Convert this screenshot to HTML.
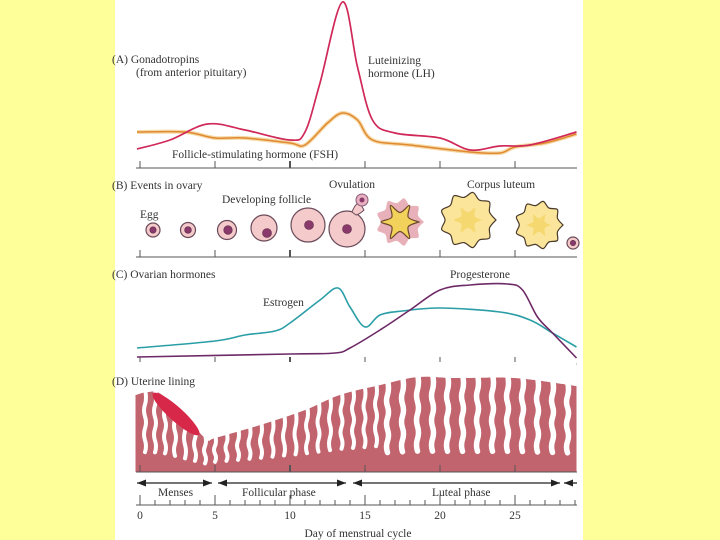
<!DOCTYPE html>
<html><head><meta charset="utf-8"><style>
html,body{margin:0;padding:0;background:#FFFF99;}
#wrap{position:relative;width:720px;height:540px;background:#FFFF99;overflow:hidden;}
svg text{font-family:"Liberation Serif",serif;fill:#333;font-size:11.5px;}
</style></head><body>
<div id="wrap">
<svg id="chart" width="720" height="540" viewBox="0 0 720 540">
<rect x="115" y="0" width="468" height="540" fill="#fff"/>
</svg>
</div>
<script>
const lhDays=[-0.2,2,4.5,7,10,11,12,13.5,14.5,15.5,17,20,22,24,26,29.1];
const lhVals=[19,28,44,38,28,36,85,166,101,48,35,30,18,22,23,36];
const fshDays=[-0.2,3,5,7,10,11,12.5,13.5,14.5,15.5,18,22,24,25,27,29.1];
const fshVals=[36,36,30,30,25,23,45,55,48,28,23,16,15,21,25,34];
const estDays=[-0.2,5,7,9,10,12,13.2,14,15,16,17.5,20,24,26,27.5,29.1];
const estVals=[16,23,29,33,41,64,76,57,37,49,53,56,52,44,31,17];
const proDays=[-0.2,10,13,14,16,18,20,22,24.5,25.5,26.5,27.5,29.1];
const proVals=[7,10,11,16,34,54,74,79,80,74,47,31,6];
const tickDays=[0,5,10,15,20,25];
const tickLabels=["0","5","10","15","20","25"];
const liningDays=[-0.3,0.5,1.5,3.5,4.5,5,8,11,13.3,16,18.5,21,25,29.1];
const liningVals=[77,80,77,47,32,34,47,62,77,87,95,94,94,86];

const NS="http://www.w3.org/2000/svg";
const svg=document.getElementById('chart');
const xs=d=>140+15*d;
function mk(tag,attrs,parent){const e=document.createElementNS(NS,tag);for(const k in attrs)e.setAttribute(k,attrs[k]);(parent||svg).appendChild(e);return e;}
function smooth(pts){let d=`M${pts[0][0]},${pts[0][1]}`;for(let i=0;i<pts.length-1;i++){const p0=pts[Math.max(0,i-1)],p1=pts[i],p2=pts[i+1],p3=pts[Math.min(pts.length-1,i+2)];const c1=[p1[0]+(p2[0]-p0[0])/6,p1[1]+(p2[1]-p0[1])/6],c2=[p2[0]-(p3[0]-p1[0])/6,p2[1]-(p3[1]-p1[1])/6];d+=` C${c1[0]},${c1[1]} ${c2[0]},${c2[1]} ${p2[0]},${p2[1]}`;}return d;}
function txt(x,y,s,name,extra){const t=mk('text',Object.assign({x:x,y:y},extra||{}));t.textContent=s;return t;}
function axis(y,name){const g=mk('g',{});
 mk('line',{x1:136,y1:y,x2:577,y2:y,stroke:'#555','stroke-width':1},g);
 tickDays.forEach(d=>{mk('line',{x1:xs(d),y1:y,x2:xs(d),y2:y-7,stroke:'#555','stroke-width':d==10?2:1},g);});}
function curve(days,vals,base,color,name,w){const p=mk('path',{d:smooth(days.map((d,i)=>[xs(d),base-vals[i]])),fill:'none',stroke:color,'stroke-width':w||1.6});}

axis(168,'panel-a-axis');
curve(fshDays,fshVals,168,'#F6D9A8','fsh-glow',4);
curve(fshDays,fshVals,168,'#E08A30','fsh-line',1.5);
curve(lhDays,lhVals,168,'#D02858','lh-line',1.7);
txt(112,63,'(A)  Gonadotropins','panel-a-title');
txt(136,76,'(from anterior pituitary)','panel-a-subtitle');
txt(368,64,'Luteinizing','lh-label');
txt(368,77,'hormone (LH)','lh-label-2');
txt(172,158,'Follicle-stimulating hormone (FSH)','fsh-label');

axis(257,'panel-b-axis');
txt(112,189,'(B)  Events in ovary','panel-b-title');
txt(222,203,'Developing follicle','developing-follicle-label');
txt(329,188,'Ovulation','ovulation-label');
txt(467,188,'Corpus luteum','corpus-luteum-label');
txt(140,218,'Egg','egg-label');
function follicle(cx,cy,r,ex,ey,name){const g=mk('g',{});
 mk('circle',{cx:cx,cy:cy,r:r,fill:'#F5CACA',stroke:'#6a4a5a','stroke-width':1.2},g);
 mk('circle',{cx:ex,cy:ey,r:Math.min(4.5,r*0.45),fill:'#8a3a6a',stroke:'#5a2a4a','stroke-width':.6},g);}
follicle(153,230,7,153,230,'follicle-1');
follicle(188,230,7.5,188,230,'follicle-2');
follicle(227,230,9.5,228,230,'follicle-3');
follicle(264,228,13,267,233,'follicle-4');
follicle(308,225,17,309,225,'follicle-5');
follicle(347,229,18,347,229,'follicle-6');
mk('path',{d:'M352,212 Q356,202 360,203 L364,210 Q360,214 356,215 Z',fill:'#F5CACA',stroke:'#6a4a5a','stroke-width':1});
const ov=mk('circle',{cx:362,cy:200,r:6,fill:'#e8b0c0',stroke:'#8a5a7a','stroke-width':1});
mk('circle',{cx:362,cy:200,r:2.5,fill:'#8a3a6a'});
function blob(cx,cy,r,n,amp,fill,stroke,name){let pts=[];for(let i=0;i<n*2;i++){const a=i*Math.PI/n;const rr=i%2?r*(1-amp):r;pts.push([cx+rr*Math.cos(a),cy+rr*Math.sin(a)]);}pts.push(pts[0]);const p=mk('path',{d:smooth(pts)+'Z',fill:fill,stroke:stroke,'stroke-width':1.2});}
blob(400,222,24,9,0.2,'#E8B0B8','none','rupturing-follicle-halo');
blob(400,222,19,6,0.5,'#F2D25A','#6a4a2a','rupturing-follicle');
blob(468,220,28,9,0.18,'#FBE59A','#4a3a2a','corpus-luteum-1');
blob(468,220,14,6,0.45,'#F5D870','none','corpus-luteum-1-core');
blob(539,225,24,9,0.18,'#FBE59A','#4a3a2a','corpus-luteum-2');
blob(539,225,12,6,0.45,'#F5D870','none','corpus-luteum-2-core');
follicle(573,243,6,573,243,'follicle-next');

axis(364,'panel-c-axis');
curve(estDays,estVals,364,'#2A9EA6','estrogen-line',1.6);
curve(proDays,proVals,364,'#6E2A66','progesterone-line',1.6);
txt(112,278,'(C)  Ovarian hormones','panel-c-title');
txt(450,278,'Progesterone','progesterone-label');
txt(263,306,'Estrogen','estrogen-label');

const liningBase=472;
const liningTop=liningDays.map((d,i)=>[xs(d),liningBase-liningVals[i]]);
function topAt(x){for(let i=0;i<liningTop.length-1;i++){if(x>=liningTop[i][0]&&x<=liningTop[i+1][0]){const t=(x-liningTop[i][0])/(liningTop[i+1][0]-liningTop[i][0]);return liningTop[i][1]+t*(liningTop[i+1][1]-liningTop[i][1]);}}return liningTop[liningTop.length-1][1];}
const lin=mk('path',{d:smooth(liningTop)+` L${xs(29.1)},${liningBase} L${xs(-0.3)},${liningBase} Z`,fill:'#C2646E'});


const gg=mk('g',{});
for(let x=145,k=0;x<575;k++){const step=x<215?10:(x<380?11.5:15);const ty=topAt(x);const depth=(liningBase-ty)*(x<215?0.75:(x<380?0.7:0.78));let d=`M${x},${ty-4}`;const segs=Math.max(3,Math.round(depth/12));for(let s=1;s<=segs;s++){const y=ty+depth*s/segs;d+=` Q${x+(s%2?2:-2)},${y-depth/segs/2} ${x},${y}`;}
 mk('path',{d:d,fill:'none',stroke:'#fff','stroke-width':x<215?4:(x<380?4:5.5),'stroke-linecap':'round'},gg);x+=step;}
mk('path',{d:smooth(liningTop)+` L${xs(29.1)},${liningBase-110} L${xs(-0.3)},${liningBase-110} Z`,fill:'#fff'});
const clot=mk('ellipse',{cx:176,cy:414,rx:31,ry:7,transform:'rotate(42 176 414)',fill:'#D8284A'});
axis(472,'panel-d-axis');
txt(112,385,'(D)  Uterine lining','panel-d-title');

function arrow(x1,x2,name,left,right){const g=mk('g',{});const y=483;mk('line',{x1:x1,y1:y,x2:x2,y2:y,stroke:'#222','stroke-width':1.3},g);
 if(left)mk('polygon',{points:`${x1},${y} ${x1+9},${y-3.5} ${x1+9},${y+3.5}`,fill:'#222'},g);
 if(right)mk('polygon',{points:`${x2},${y} ${x2-9},${y-3.5} ${x2-9},${y+3.5}`,fill:'#222'},g);}
arrow(137,212,'menses-arrow',1,1);
arrow(218,346,'follicular-arrow',1,1);
arrow(353,560,'luteal-arrow',1,1);
arrow(564,577,'next-cycle-arrow',1,0);
txt(158,496,'Menses','menses-label');
txt(242,496,'Follicular phase','follicular-label');
txt(432,496,'Luteal phase','luteal-label');

const ba=mk('g',{});
mk('line',{x1:136,y1:505,x2:577,y2:505,stroke:'#555'},ba);
for(let d=0;d<=29;d++){mk('line',{x1:xs(d),y1:505,x2:xs(d),y2:d%5==0?495:500,stroke:'#555'},ba);}
tickDays.forEach((d,i)=>{txt(xs(d),519,tickLabels[i],'day-tick-label',{'text-anchor':'middle'});});
txt(358,537,'Day of menstrual cycle','x-axis-title',{'text-anchor':'middle'});
</script>
</body></html>
